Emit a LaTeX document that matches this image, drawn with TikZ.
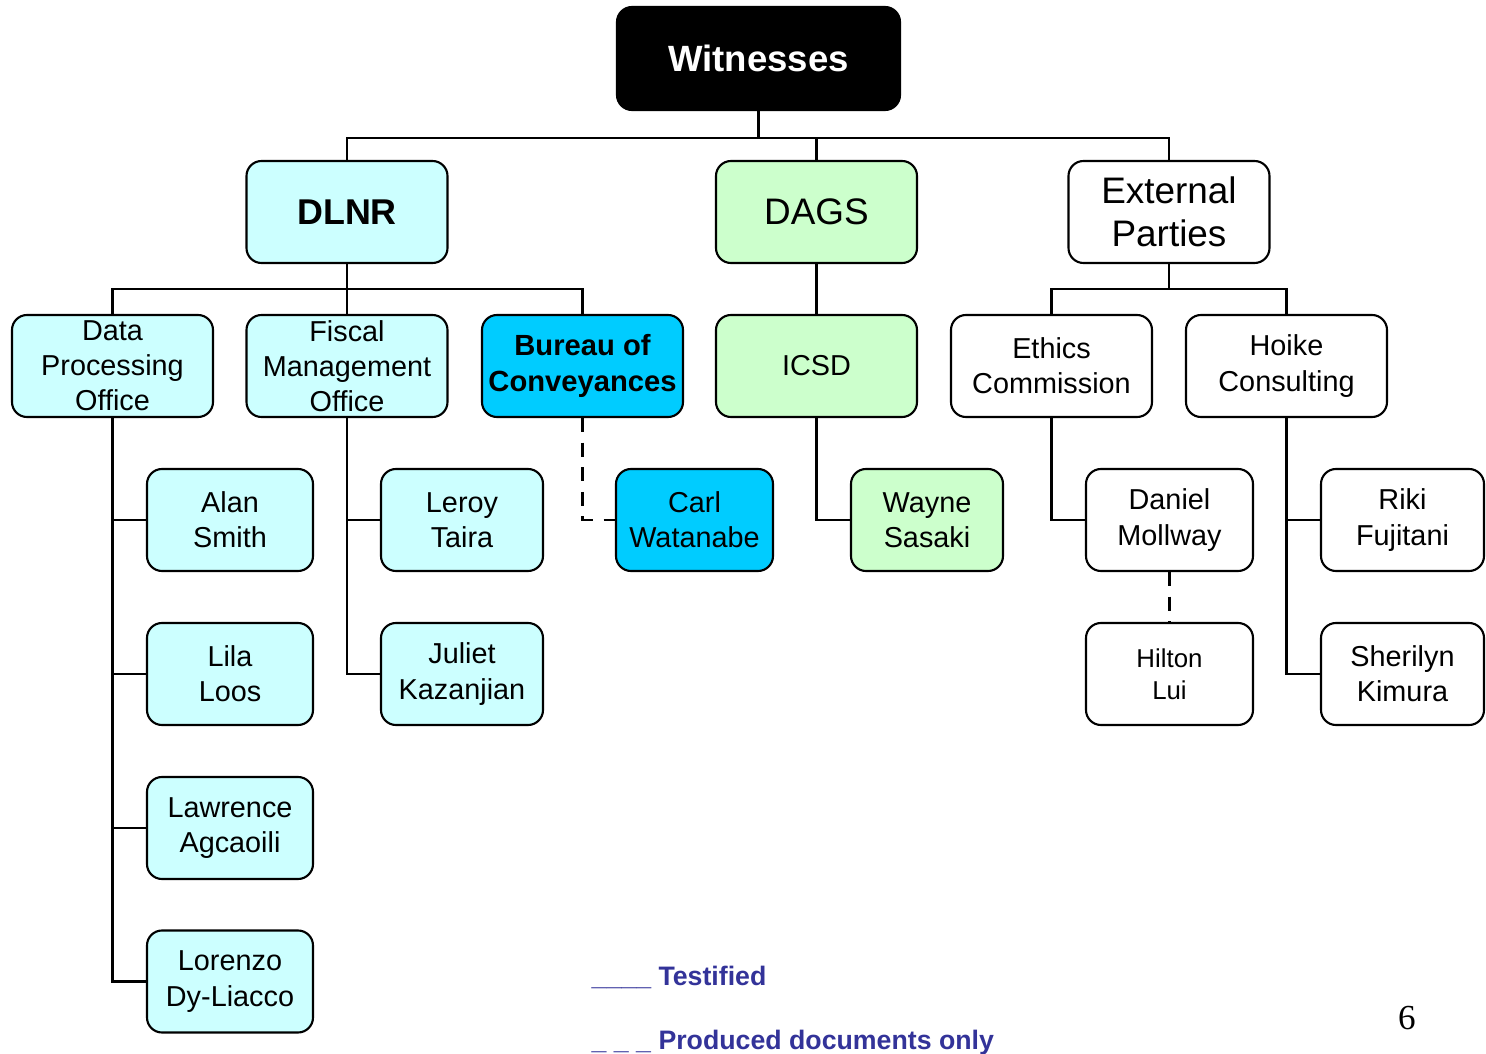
\documentclass[tikz,border=0pt]{standalone}
\usepackage{fontspec}
\setmainfont{Liberation Sans}
\newfontfamily\pagefont{Liberation Serif}
\usetikzlibrary{calc}
\definecolor{lcyan}{HTML}{CCFFFF}
\definecolor{dcyan}{HTML}{00CCFF}
\definecolor{lgreen}{HTML}{CCFFCC}
\definecolor{legend}{HTML}{333399}
\tikzset{
	box/.style={draw, line width=0.6pt, rounded corners=0.15cm, align=center,
		minimum width=2.01cm, minimum height=1.02cm, inner sep=1pt,
		font=\fontsize{8.2}{10}\selectfont},
	big/.style={box, font=\fontsize{10.5}{12.2}\selectfont},
	person/.style={box, minimum width=1.64cm},
	link/.style={line width=0.8pt},
	dlink/.style={line width=0.8pt, dash pattern=on 4pt off 3pt}
}

\begin{document}
\begin{tikzpicture}
	\useasboundingbox (0, 0) rectangle (14.86, -10.54);
	% top
	\node[big, fill=black, text=white, minimum width=2.83cm, minimum height=1.03cm,
		font=\fontsize{10.4}{12}\selectfont\bfseries] (wit) at (7.585, -0.585) {Witnesses};
	\node[big, fill=lcyan, font=\fontsize{10.2}{12}\selectfont\bfseries] (dlnr) at (3.47, -2.12) {DLNR};
	\node[big, fill=lgreen] (dags) at (8.165, -2.12) {DAGS};
	\node[big] (ext) at (11.69, -2.12) {External\\Parties};
	% offices
	\node[box, fill=lcyan] (dpo) at (1.125, -3.66) {Data\\Processing\\Office};
	\node[box, fill=lcyan] (fmo) at (3.47, -3.66) {Fiscal\\Management\\Office};
	\node[box, fill=dcyan, font=\fontsize{8.3}{10}\selectfont\bfseries] (boc) at (5.825, -3.66) {Bureau of\\Conveyances};
	\node[box, fill=lgreen] (icsd) at (8.165, -3.66) {ICSD};
	\node[box] (eth) at (10.515, -3.66) {Ethics\\Commission};
	\node[box] (hoi) at (12.865, -3.66) {Hoike\\Consulting};
	% people
	\node[person, fill=lcyan, minimum width=1.66cm] (alan) at (2.30, -5.20) {Alan\\Smith};
	\node[person, fill=lcyan, minimum width=1.66cm] (lila) at (2.30, -6.74) {Lila\\Loos};
	\node[person, fill=lcyan, minimum width=1.66cm] (lawr) at (2.30, -8.28) {Lawrence\\Agcaoili};
	\node[person, fill=lcyan, minimum width=1.66cm] (lore) at (2.30, -9.815) {Lorenzo\\Dy-Liacco};
	\node[person, fill=lcyan, minimum width=1.62cm] (lero) at (4.62, -5.20) {Leroy\\Taira};
	\node[person, fill=lcyan, minimum width=1.62cm] (juli) at (4.62, -6.74) {Juliet\\Kazanjian};
	\node[person, fill=dcyan, minimum width=1.57cm] (carl) at (6.945, -5.20) {Carl\\Watanabe};
	\node[person, fill=lgreen, minimum width=1.52cm] (wayn) at (9.27, -5.20) {Wayne\\Sasaki};
	\node[person, minimum width=1.67cm] (dani) at (11.695, -5.20) {Daniel\\Mollway};
	\node[person, minimum width=1.67cm, font=\fontsize{7.35}{9.1}\selectfont] (hilt) at (11.695, -6.74) {Hilton\\Lui};
	\node[person, minimum width=1.63cm] (riki) at (14.025, -5.20) {Riki\\Fujitani};
	\node[person, minimum width=1.63cm] (sher) at (14.025, -6.74) {Sherilyn\\Kimura};
	% top bus
	\draw[link] (wit.south) -- +(0, -0.27) coordinate (b1);
	\draw[link] (dlnr.north) |- (b1) -| (ext.north);
	\draw[link] (dags.north) -- (dags.north |- b1);
	% DLNR bus
	\draw[link] (dlnr.south) -- (fmo.north);
	\coordinate (b2) at ($(dlnr.south)!0.5!(fmo.north)$);
	\draw[link] (dpo.north) |- (b2) -| (boc.north);
	\draw[link] (dags.south) -- (icsd.north);
	% External bus
	\coordinate (b3) at ($(ext.south)!0.5!(ext.south |- eth.north)$);
	\draw[link] (ext.south) -- (b3);
	\draw[link] (eth.north) |- (b3) -| (hoi.north);
	% branches
	\draw[link] (dpo.south) |- (alan.west);
	\draw[link] (dpo.south) |- (lila.west);
	\draw[link] (dpo.south) |- (lawr.west);
	\draw[link] (dpo.south) |- (lore.west);
	\draw[link] (fmo.south) |- (lero.west);
	\draw[link] (fmo.south) |- (juli.west);
	\draw[dlink] (boc.south) |- (carl.west);
	\draw[link] (icsd.south) |- (wayn.west);
	\draw[link] (eth.south) |- (dani.west);
	\draw[dlink] (dani.south) -- (hilt.north);
	\draw[link] (hoi.south) |- (riki.west);
	\draw[link] (hoi.south) |- (sher.west);
	% legend
	\node[anchor=base west, inner sep=0pt, text=legend, font=\fontsize{7.6}{9}\selectfont\bfseries] (leg1) at (5.91, -9.85) {\_\_\_\_ Testified};
	\node[anchor=base west, inner sep=0pt, text=legend, font=\fontsize{7.6}{9}\selectfont\bfseries] (leg2) at (5.91, -10.49) {\_ \_ \_ Produced documents only};
	\node[anchor=base, inner sep=0pt, font=\pagefont\fontsize{10}{12}\selectfont] (page) at (14.07, -10.29) {6};
\end{tikzpicture}
\end{document}
